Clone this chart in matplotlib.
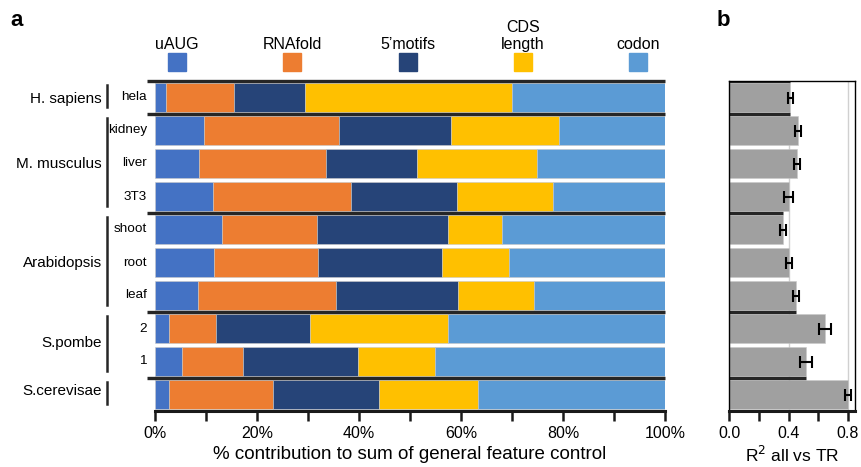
import numpy as np
import matplotlib
matplotlib.use("Agg")
import matplotlib.pyplot as plt
from matplotlib.patches import Rectangle

plt.rcParams['font.family'] = ['Liberation Sans', 'DejaVu Sans']

# samples, top to bottom
samples = ["hela", "kidney", "liver", "3T3", "shoot", "root", "leaf", "2", "1", ""]
groups = ["H. sapiens", "M. musculus", "Arabidopsis", "S.pombe", "S.cerevisae"]
group_rows = [(0, 0), (1, 3), (4, 6), (7, 8), (9, 9)]
features = ["uAUG", "RNAfold", "5\u2019motifs", "CDS\nlength", "codon"]
colors = ["#4472C4", "#ED7D31", "#264478", "#FFC000", "#5B9BD5"]

# % contribution of each feature (rows = samples)
uaug     = [2.2, 9.6, 8.6, 11.4, 13.1, 11.6, 8.5, 2.7, 5.2, 2.7]
rnafold  = [13.2, 26.5, 24.9, 27.0, 18.7, 20.4, 27.0, 9.3, 12.0, 20.4]
motifs5  = [14.0, 21.9, 17.9, 20.8, 25.7, 24.3, 23.9, 18.4, 22.6, 20.8]
cds_len  = [40.6, 21.2, 23.6, 18.8, 10.5, 13.2, 14.9, 27.1, 15.1, 19.5]
codon    = [30.0, 20.8, 25.0, 22.0, 32.0, 30.5, 25.7, 42.5, 45.1, 36.6]

# panel b: R^2 all vs TR
r2     = [0.413, 0.465, 0.46, 0.40, 0.36, 0.40, 0.45, 0.645, 0.52, 0.805]
r2_err = [0.02, 0.02, 0.02, 0.03, 0.02, 0.02, 0.02, 0.04, 0.04, 0.02]

W, H = 862, 467
fig = plt.figure(figsize=(W / 100, H / 100), dpi=100)

def fx(px):
    return px / W

def fy(py):
    return 1 - py / H

ax = fig.add_axes([fx(155), fy(411), fx(665) - fx(155), fy(81) - fy(411)])
axb = fig.add_axes([fx(729.5), fy(411), fx(855) - fx(729.5), fy(81) - fy(411)])

y = np.arange(len(samples))
data = np.array([uaug, rnafold, motifs5, cds_len, codon])
left = np.zeros(len(samples))
for vals, c in zip(data, colors):
    ax.barh(y, vals, left=left, height=0.9, color=c, edgecolor="#c8c8c8", linewidth=0.4)
    left += vals

ax.set_xlim(0, 100)
ax.set_ylim(9.5, -0.5)
for s in ["top", "left", "right"]:
    ax.spines[s].set_visible(False)
ax.spines["bottom"].set_linewidth(2.2)
ax.spines["bottom"].set_color("#1a1a1a")
ax.set_yticks([])
ax.set_xticks(np.arange(0, 101, 20))
ax.set_xticks(np.arange(0, 101, 10), minor=True)
ax.set_xticklabels(["%d%%" % v for v in range(0, 101, 20)], fontsize=11.5)
ax.tick_params(axis="x", which="both", direction="out", length=7, width=1.8, color="#1a1a1a")
ax.set_xlabel("% contribution to sum of general feature control", fontsize=13.5, labelpad=4)

# group separators
seps = [-0.5] + [g[1] + 0.5 for g in group_rows[:-1]]
for s in seps:
    ax.plot([-1.6, 100], [s, s], color="#262626", lw=2.4, clip_on=False, solid_capstyle="butt")

# labels
trans = matplotlib.transforms.blended_transform_factory(ax.transAxes, ax.transData)
for i, lab in enumerate(samples):
    ax.text(-0.016, i, lab, transform=trans, ha="right", va="center", fontsize=9.7)
group_y = [0.05, 2, 5, 7.45, 8.9]
for (i0, i1), g, gy in zip(group_rows, groups, group_y):
    ax.plot([-0.094, -0.094], [i0 - 0.38, i1 + 0.28], transform=trans,
            color="#262626", lw=1.8, clip_on=False)
    ax.text(-0.104, gy, g, transform=trans, ha="right", va="center", fontsize=11)

# legend squares with labels above
leg_x = [177, 292, 408, 523, 638]
for xc, c, f in zip(leg_x, colors, features):
    fig.add_artist(Rectangle((fx(xc - 9), fy(71)), 18 / W, 18 / H, color=c,
                             transform=fig.transFigure))
    fig.text(fx(xc), fy(52), f, ha="center", va="bottom", fontsize=11.5,
             linespacing=1.2, multialignment="center")

# panel b
axb.set_axisbelow(True)
axb.grid(axis="x", color="#d0d0d0", lw=1)
axb.barh(y, r2, height=0.9, color="#a0a0a0", edgecolor="#c8c8c8", linewidth=0.4)
axb.errorbar(r2, y, xerr=r2_err, fmt="none", ecolor="black", elinewidth=1.5,
             capsize=4, capthick=1.5)
axb.set_xlim(0, 0.85)
axb.set_ylim(9.5, -0.5)
axb.set_yticks([])
axb.set_xticks([0, 0.4, 0.8])
axb.set_xticks(np.arange(0, 0.81, 0.2), minor=True)
axb.set_xticklabels(["0.0", "0.4", "0.8"], fontsize=11.5)
axb.tick_params(axis="x", which="both", direction="out", length=7, width=1.8, color="#1a1a1a")
for s in ["top", "left", "right"]:
    axb.spines[s].set_linewidth(1.0)
axb.spines["bottom"].set_linewidth(2.2)
axb.spines["bottom"].set_color("#1a1a1a")
axb.set_xlabel("R$^2$ all vs TR", fontsize=12.5, labelpad=3)
bw = [r2[0]] + [min(r2[g[1]], r2[g[1] + 1]) for g in group_rows[:-1]]
for s, w in zip(seps, bw):
    axb.plot([0, w], [s, s], color="#262626", lw=2.4, solid_capstyle="butt")

fig.text(fx(10), fy(26), "a", fontsize=16, fontweight="bold")
fig.text(fx(717), fy(26), "b", fontsize=16, fontweight="bold")

fig.savefig("out.png", dpi=100)
